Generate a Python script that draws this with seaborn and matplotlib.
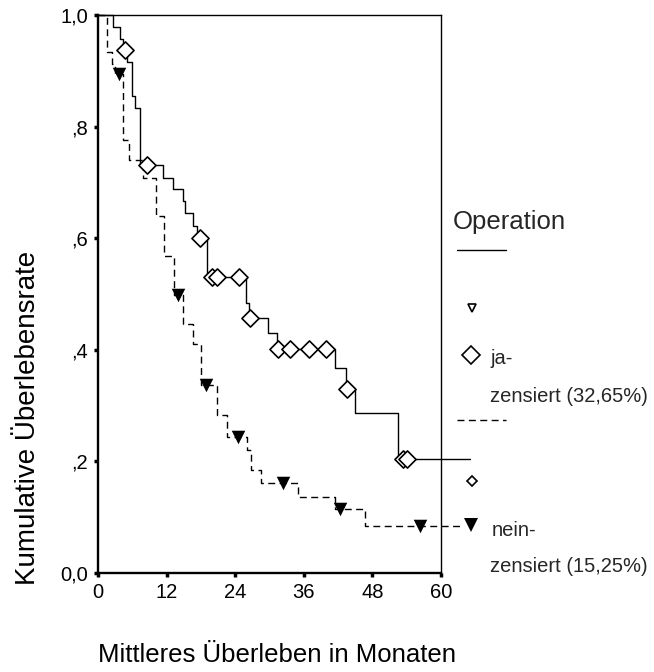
import matplotlib
matplotlib.use("Agg")
import matplotlib.pyplot as plt
import seaborn as sns
import pandas as pd
from matplotlib.lines import Line2D

sns.set_theme(style="white")
plt.rcParams['font.family'] = ['Liberation Sans', 'DejaVu Sans']
plt.rcParams['lines.scale_dashes'] = False

# ---- data ----
# Operation = ja : step function (time in months, cumulative survival)
ja_t = [0, 2.6, 3.9, 4.3, 5.0, 6.0, 6.4, 7.3, 11.4, 13.2, 14.9, 15.2, 16.6, 17.4,
        19.0, 25.9, 26.4, 29.7, 31.3, 41.4, 43.4, 45.0, 52.4, 65.0]
ja_s = [1.0, 0.979, 0.957, 0.937, 0.916, 0.854, 0.833, 0.731, 0.707, 0.688, 0.666, 0.645,
        0.621, 0.600, 0.531, 0.483, 0.457, 0.430, 0.401, 0.367, 0.330, 0.287, 0.204, 0.204]
ja_cens_t = [4.7, 8.5, 17.8, 19.9, 20.9, 24.7, 26.6, 31.4, 33.6, 36.9, 39.9, 43.6, 53.4, 54.0]
ja_cens_s = [0.937, 0.731, 0.600, 0.531, 0.531, 0.531, 0.457, 0.401, 0.401, 0.401, 0.401,
             0.330, 0.204, 0.204]

# Operation = nein
nein_t = [0, 1.5, 2.4, 3.0, 4.4, 5.5, 7.9, 10.1, 11.5, 13.3, 14.9, 16.6, 18.0, 20.8, 22.6,
          26.0, 26.8, 28.6, 35.0, 41.4, 46.7, 64.0]
nein_s = [1.0, 0.934, 0.913, 0.895, 0.776, 0.740, 0.707, 0.639, 0.568, 0.498, 0.446, 0.410,
          0.337, 0.283, 0.244, 0.220, 0.185, 0.161, 0.137, 0.115, 0.084, 0.084]
nein_cens_t = [3.7, 14.0, 18.9, 24.5, 32.4, 42.3, 56.3]
nein_cens_s = [0.895, 0.498, 0.337, 0.244, 0.161, 0.115, 0.084]

x_ticks = [0, 12, 24, 36, 48, 60]
x_tick_labels = ['0', '12', '24', '36', '48', '60']
y_ticks = [0.0, 0.2, 0.4, 0.6, 0.8, 1.0]
y_tick_labels = ['0,0', ',2', ',4', ',6', ',8', '1,0']

legend_title = "Operation"
label_ja = ["ja-", "zensiert (32,65%)"]
label_nein = ["nein-", "zensiert (15,25%)"]

W, H = 654, 672
fig = plt.figure(figsize=(W / 100, H / 100), dpi=100)
ax = fig.add_axes([98 / W, 1 - 573 / H, (441 - 98) / W, (573 - 15) / H])

ja_df = pd.DataFrame({"t": ja_t, "s": ja_s})
nein_df = pd.DataFrame({"t": nein_t, "s": nein_s})

sns.lineplot(data=ja_df, x="t", y="s", drawstyle="steps-post", estimator=None, sort=False,
             color="black", linewidth=1.0, ax=ax)
ln_ja = ax.lines[-1]
ln_ja.set_clip_on(False)

sns.lineplot(data=nein_df, x="t", y="s", drawstyle="steps-post", estimator=None, sort=False,
             color="black", linewidth=1.0, ax=ax)
ln_nein = ax.lines[-1]
ln_nein.set_dashes([5, 3.2])
ln_nein.set_clip_on(False)

sns.scatterplot(x=ja_cens_t, y=ja_cens_s, marker="D", s=76, color="black", linewidth=1.2,
                ax=ax, zorder=5)
c1 = ax.collections[-1]
c1.set_facecolor("white")
c1.set_edgecolor("black")
c1.set_clip_on(False)

sns.scatterplot(x=nein_cens_t, y=nein_cens_s, marker="v", s=95, color="black", linewidth=0,
                ax=ax, zorder=5)
c2 = ax.collections[-1]
c2.set_facecolor("black")
c2.set_edgecolor("black")
c2.set_clip_on(False)

ax.set_xlim(0, 60)
ax.set_ylim(0, 1.0)
ax.set_xticks(x_ticks)
ax.set_xticklabels(x_tick_labels)
ax.set_yticks(y_ticks)
ax.set_yticklabels(y_tick_labels)
ax.tick_params(axis="both", direction="out", length=3, width=2.5, color="black",
               labelsize=14.5, pad=4, labelcolor="black")
ax.tick_params(axis="both", which="both", bottom=True, left=True)

for side in ["left", "bottom"]:
    ax.spines[side].set_linewidth(1.7)
for side in ["top", "right"]:
    ax.spines[side].set_linewidth(1.0)
for sp in ax.spines.values():
    sp.set_color("black")
    sp.set_visible(True)

ax.set_xlabel("Mittleres Überleben in Monaten", fontsize=18.5, color="black")
ax.set_ylabel("Kumulative Überlebensrate", fontsize=20, color="black")
ax.xaxis.label.set_verticalalignment("center")
ax.yaxis.label.set_verticalalignment("center")
ax.xaxis.set_label_coords((277 - 98) / 343, -(655 - 573) / 558)
ax.yaxis.set_label_coords((28 - 98) / 343, (573 - 418) / 558)

# ---- legend (SPSS style, drawn in figure pixel space) ----
fx = lambda px: px / W
fy = lambda py: 1 - py / H

fig.text(fx(453), fy(222), legend_title, fontsize=18.5, va="center", ha="left")
fig.add_artist(Line2D([fx(457), fx(506)], [fy(250), fy(250)], color="black", lw=1.0,
                      transform=fig.transFigure))
fig.add_artist(Line2D([fx(472)], [fy(308)], marker="v", markersize=6, markerfacecolor="white",
                      markeredgecolor="black", markeredgewidth=1.2, linestyle="none",
                      transform=fig.transFigure))
fig.add_artist(Line2D([fx(471)], [fy(355)], marker="D", markersize=9, markerfacecolor="white",
                      markeredgecolor="black", markeredgewidth=1.2, linestyle="none",
                      transform=fig.transFigure))
fig.text(fx(490), fy(358), label_ja[0], fontsize=14.5, va="center", ha="left")
fig.text(fx(490), fy(397), label_ja[1], fontsize=14.5, va="center", ha="left")
dl = Line2D([fx(457), fx(506)], [fy(420), fy(420)], color="black", lw=1.0,
            transform=fig.transFigure)
dl.set_dashes([5, 3.2])
fig.add_artist(dl)
fig.add_artist(Line2D([fx(472)], [fy(481)], marker="D", markersize=5, markerfacecolor="white",
                      markeredgecolor="black", markeredgewidth=1.2, linestyle="none",
                      transform=fig.transFigure))
fig.add_artist(Line2D([fx(471)], [fy(525)], marker="v", markersize=10, markerfacecolor="black",
                      markeredgecolor="black", markeredgewidth=0, linestyle="none",
                      transform=fig.transFigure))
fig.text(fx(492), fy(530), label_nein[0], fontsize=14.5, va="center", ha="left")
fig.text(fx(490), fy(566), label_nein[1], fontsize=14.5, va="center", ha="left")

fig.savefig("out.png", dpi=100, facecolor="white")
